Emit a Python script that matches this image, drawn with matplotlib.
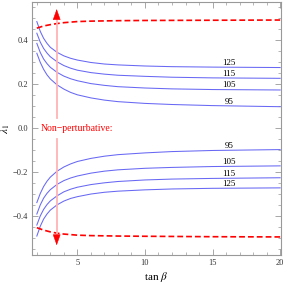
import numpy as np
import matplotlib
matplotlib.use("Agg")
import matplotlib.pyplot as plt
from matplotlib.ticker import MultipleLocator

# tan(beta) sample points
tanb = [2, 2.25, 2.5, 2.75, 3, 3.5, 4, 4.5, 5, 6, 7, 8, 10, 12, 15, 20]

# upper branch of lambda_1, one curve per Higgs mass label
upper = {
    "125": [0.485, 0.441, 0.409, 0.386, 0.368, 0.345, 0.329, 0.318, 0.310, 0.299, 0.292, 0.288, 0.283, 0.280, 0.278, 0.276],
    "115": [0.432, 0.392, 0.363, 0.342, 0.325, 0.302, 0.285, 0.273, 0.264, 0.253, 0.246, 0.241, 0.236, 0.232, 0.229, 0.227],
    "105": [0.386, 0.345, 0.315, 0.294, 0.277, 0.254, 0.237, 0.225, 0.216, 0.203, 0.195, 0.189, 0.183, 0.179, 0.176, 0.174],
    "95": [0.341, 0.300, 0.268, 0.243, 0.224, 0.197, 0.178, 0.163, 0.152, 0.138, 0.128, 0.121, 0.113, 0.108, 0.103, 0.098],
}
lower = {
    "95": [-0.338, -0.297, -0.265, -0.241, -0.222, -0.195, -0.176, -0.162, -0.151, -0.137, -0.127, -0.120, -0.112, -0.106, -0.101, -0.097],
    "105": [-0.390, -0.349, -0.318, -0.296, -0.279, -0.255, -0.238, -0.226, -0.217, -0.204, -0.195, -0.189, -0.182, -0.178, -0.174, -0.171],
    "115": [-0.440, -0.399, -0.369, -0.347, -0.330, -0.307, -0.289, -0.277, -0.268, -0.256, -0.248, -0.242, -0.235, -0.231, -0.228, -0.225],
    "125": [-0.490, -0.446, -0.413, -0.390, -0.372, -0.348, -0.331, -0.319, -0.311, -0.299, -0.291, -0.286, -0.280, -0.276, -0.273, -0.271],
}

# non-perturbative bounds (red dashed)
bound_x = [2, 2.5, 3, 3.5, 4, 5, 6, 8, 10, 15, 20]
bound_up = [0.455, 0.465, 0.471, 0.476, 0.480, 0.485, 0.487, 0.489, 0.490, 0.491, 0.492]
bound_dn = [-0.452, -0.463, -0.471, -0.477, -0.481, -0.486, -0.488, -0.490, -0.491, -0.493, -0.494]

label_x = 16.2
arrow_x = 3.47


def main():
    plt.rcParams["font.family"] = "Liberation Serif"
    plt.rcParams["mathtext.fontset"] = "stix"

    fig = plt.figure(figsize=(2.88, 2.84), dpi=100)
    ax = fig.add_axes([0.111, 0.103, 0.865, 0.890])

    blue = "#6868f4"
    for name, vals in upper.items():
        ax.plot(tanb, vals, color=blue, lw=0.75)
        yl = np.interp(label_x, tanb, vals)
        ax.annotate(name, (label_x, yl), xytext=(0, 0.2), textcoords="offset points",
                    ha="center", va="bottom", fontsize=6.5)
    for name, vals in lower.items():
        ax.plot(tanb, vals, color=blue, lw=0.75)
        yl = np.interp(label_x, tanb, vals)
        ax.annotate(name, (label_x, yl), xytext=(0, 0.2), textcoords="offset points",
                    ha="center", va="bottom", fontsize=6.5)

    ax.plot(bound_x, bound_up, color="red", lw=1.2, dashes=(3.5, 1.8))
    ax.plot(bound_x, bound_dn, color="red", lw=1.2, dashes=(3.5, 1.8))

    # arrows marking the non-perturbative region
    pink = "#ffb4b4"
    ax.plot([arrow_x, arrow_x], [0.047, 0.51], color=pink, lw=1.3)
    ax.plot([arrow_x, arrow_x], [-0.049, -0.50], color=pink, lw=1.3)
    ax.annotate("", xy=(arrow_x, 0.542), xytext=(arrow_x, 0.505),
                arrowprops=dict(arrowstyle="-|>,head_length=0.7,head_width=0.25",
                                color="red", lw=0.4, shrinkA=0, shrinkB=0))
    ax.annotate("", xy=(arrow_x, -0.532), xytext=(arrow_x, -0.495),
                arrowprops=dict(arrowstyle="-|>,head_length=0.7,head_width=0.25",
                                color="red", lw=0.4, shrinkA=0, shrinkB=0))
    ax.text(5.0, 0.0, "Non\u2212perturbative:", color="red", fontsize=7,
            ha="center", va="center")

    ax.set_xlim(1.64, 20.07)
    ax.set_ylim(-0.575, 0.574)
    ax.xaxis.set_major_locator(MultipleLocator(5))
    ax.xaxis.set_minor_locator(MultipleLocator(1))
    ax.yaxis.set_major_locator(MultipleLocator(0.2))
    ax.yaxis.set_minor_locator(MultipleLocator(0.05))
    ax.set_yticks([-0.4, -0.2, 0.0, 0.2, 0.4])
    ax.set_yticklabels(["\u22120.4", "\u22120.2", "0.0", "0.2", "0.4"])
    ax.set_xticks([5, 10, 15, 20])

    for s in ax.spines.values():
        s.set_color("#999999")
        s.set_linewidth(0.8)
    ax.tick_params(which="both", direction="in", top=True, right=True,
                   color="#999999", labelsize=6, pad=3, labelcolor="#333333")
    ax.tick_params(which="major", length=4, width=0.6)
    ax.tick_params(which="minor", length=2, width=0.5)

    ax.set_xlabel(r"tan $\beta$", fontsize=8, labelpad=2)
    ax.set_ylabel(r"$\lambda_1$", fontsize=8, labelpad=0)

    fig.savefig("out.png", dpi=100)


if __name__ == "__main__":
    main()
